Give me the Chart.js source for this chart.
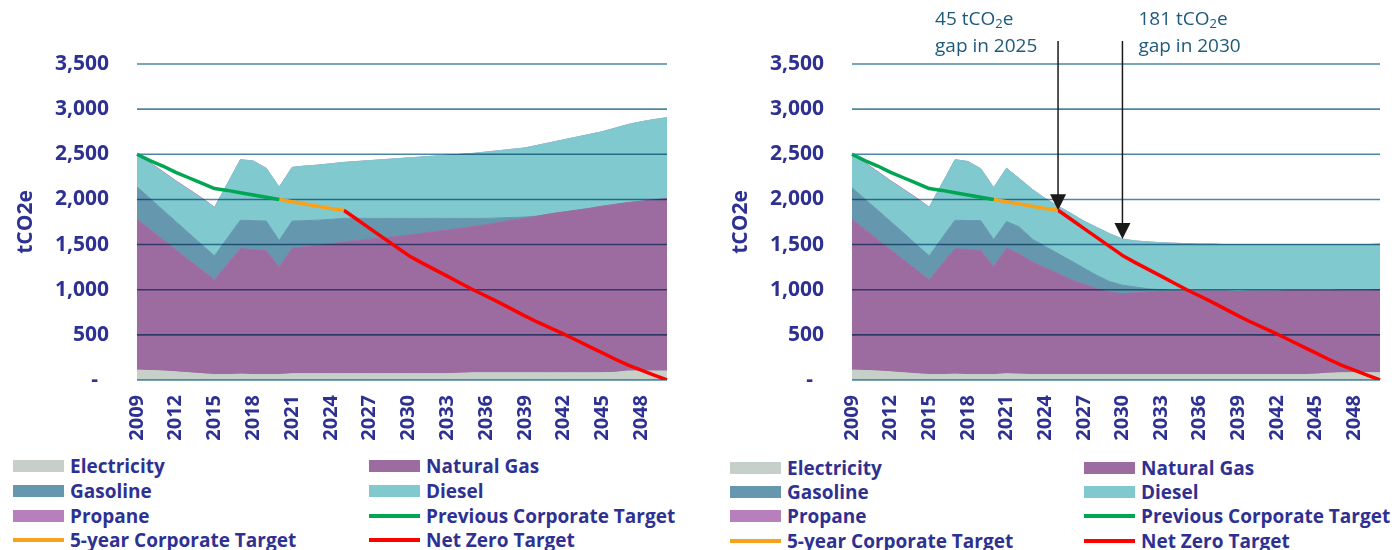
<!DOCTYPE html>
<html lang="en">
<head>
<meta charset="UTF-8">
<title>Fleet emissions forecast</title>
<script src="https://cdn.jsdelivr.net/npm/chart.js"></script>
<style>
    body {
        margin: 0;
        background: #fff;
        font-family: "Open Sans", Arial, sans-serif;
    }
    #wrap {
        position: relative;
        width: 1396px;
        height: 550px;
        overflow: hidden;
    }
    canvas {
        position: absolute;
        top: 0;
    }
    #bauChart { left: 0; }
    #planChart { left: 700px; }
    .legend-item {
        position: absolute;
        height: 20px;
        display: flex;
        align-items: center;
        font-weight: 700;
        font-size: 19px;
        color: #2e3192;
        white-space: nowrap;
    }
    .swatch {
        width: 51px;
        height: 12px;
        margin-right: 6px;
        flex: none;
    }
    .swatch.line { height: 4px; }
</style>
</head>
<body>
<div id="wrap">
    <canvas id="bauChart" width="690" height="450"></canvas>
    <canvas id="planChart" width="696" height="450"></canvas>
</div>
<script>
// years on the x axis, 2009 - 2050
const years = ['2009','2010','2011','2012','2013','2014','2015','2016','2017','2018',
               '2019','2020','2021','2022','2023','2024','2025','2026','2027','2028',
               '2029','2030','2031','2032','2033','2034','2035','2036','2037','2038',
               '2039','2040','2041','2042','2043','2044','2045','2046','2047','2048',
               '2049','2050'];

const yTicks = [0, 500, 1000, 1500, 2000, 2500, 3000, 3500];

// left panel - forecast without further action (tCO2e)
const bauElectricity = [110,105,100,90,80,70,60,60,65,60,
                        60,60,70,70,70,70,70,70,70,70,
                        70,70,70,70,70,75,80,80,80,80,
                        80,80,80,80,80,80,80,85,100,100,
                        100,100];
const bauNaturalGas = [1670,1563,1456,1354,1252,1150,1050,1225,1390,1385,
                       1375,1190,1390,1405,1420,1440,1460,1475,1490,1505,
                       1520,1535,1555,1575,1590,1605,1620,1640,1665,1690,
                       1710,1735,1760,1780,1800,1820,1845,1860,1865,1880,
                       1895,1910];
const bauGasoline = [360,344,328,312,296,280,265,290,315,320,
                     325,295,300,290,280,270,260,245,230,215,
                     200,185,165,145,130,110,90,70,50,30,
                     15,0,0,0,0,0,0,0,0,0,
                     0,0];
const bauDiesel = [360,388,416,444,477,510,535,600,670,660,
                   585,590,595,605,610,615,620,630,640,650,
                   660,670,680,690,700,710,720,735,745,755,
                   765,785,790,800,810,820,825,845,865,880,
                   890,895];

// right panel - forecast with fleet plan (tCO2e)
const planElectricity = [110,105,100,90,80,70,60,60,65,60,
                         60,60,70,65,60,60,60,60,60,60,
                         60,60,60,60,60,60,60,60,60,60,
                         60,60,60,60,60,60,65,75,80,80,
                         80,80];
const planNaturalGas = [1670,1563,1456,1354,1252,1150,1050,1225,1390,1385,
                        1375,1195,1390,1330,1250,1180,1120,1050,1000,950,
                        915,895,905,915,920,925,925,925,925,925,
                        920,925,925,925,930,930,925,915,915,915,
                        915,920];
const planGasoline = [350,337,324,311,298,280,265,290,315,320,
                      330,300,295,300,250,240,220,210,180,150,
                      115,95,65,35,20,5,0,0,0,0,
                      0,0,0,0,0,0,0,0,0,0,
                      0,0];
const planDiesel = [370,395,420,445,475,510,535,600,670,655,
                    575,575,590,535,550,530,525,525,520,530,
                    530,511,510,520,520,525,525,520,520,515,
                    520,515,515,515,510,510,510,510,505,505,
                    505,505];

const propane = [0,8,8,8,8,8,4,0,0,0,
                 0,0,0,0,0,0,0,0,0,0,
                 0,0,0,0,0,0,0,0,0,0,
                 0,0,0,0,0,0,0,0,0,0,
                 0,0];

// targets (same in both panels)
const previousTarget = [2500,2430,2370,2300,2240,2180,2120,2100,2075,2050,
                        2025,2000,null,null,null,null,null,null,null,null,
                        null,null,null,null,null,null,null,null,null,null,
                        null,null,null,null,null,null,null,null,null,null,
                        null,null];
const fiveYearTarget = [null,null,null,null,null,null,null,null,null,null,
                        null,2000,1975,1950,1925,1900,1880,null,null,null,
                        null,null,null,null,null,null,null,null,null,null,
                        null,null,null,null,null,null,null,null,null,null,
                        null,null];
const netZeroTarget = [null,null,null,null,null,null,null,null,null,null,
                       null,null,null,null,null,null,1880,1780,1680,1580,
                       1480,1380,1300,1225,1150,1075,1000,930,860,785,
                       710,640,575,510,440,370,300,230,165,110,
                       55,0];

// gap call-outs on the right panel
const gapNotes = [
    { year: '2025', gap: 45, arrowTo: 'target', textDx: -123 },
    { year: '2030', gap: 181, arrowTo: 'total', textDx: 16 }
];

const colors = {
    electricity: '#c6d0c8',
    naturalGas: '#9c6ca0',
    gasoline: '#6598af',
    diesel: '#7fc9cf',
    propane: '#b77fbc',
    previous: '#00a651',
    fiveYear: '#f8a21c',
    netZero: '#ff0000',
    text: '#2e3192',
    grid: '#4a86a6'
};

const tickFont = { family: '"Open Sans", Arial, sans-serif', weight: 'bold', size: 20 };

function areaSet(label, data, color, fill) {
    return {
        label: label,
        data: data,
        stack: 'energy',
        order: 1,
        fill: fill,
        backgroundColor: color,
        borderColor: color,
        borderWidth: 1,
        pointRadius: 0
    };
}

function lineSet(label, data, color) {
    return {
        label: label,
        data: data,
        stack: label,
        order: 0,
        fill: false,
        borderColor: color,
        backgroundColor: color,
        borderWidth: 3.5,
        borderJoinStyle: 'round',
        pointRadius: 0,
        spanGaps: false
    };
}

// y gridlines drawn over the areas (multiply so they darken like the original)
const gridOverAreas = {
    id: 'gridOverAreas',
    afterDatasetDraw(chart, args) {
        if (args.index !== 0) return;
        const { ctx, chartArea, scales } = chart;
        ctx.save();
        ctx.globalCompositeOperation = 'multiply';
        ctx.strokeStyle = colors.grid;
        ctx.lineWidth = 1.6;
        scales.y.ticks.forEach(t => {
            const y = scales.y.getPixelForValue(t.value);
            ctx.beginPath();
            ctx.moveTo(chartArea.left, y);
            ctx.lineTo(chartArea.right, y);
            ctx.stroke();
        });
        ctx.restore();
    }
};

function drawCO2(ctx, prefix, x, y) {
    ctx.font = '19px "Open Sans", Arial, sans-serif';
    ctx.fillText(prefix + ' tCO', x, y);
    let w = ctx.measureText(prefix + ' tCO').width;
    ctx.font = '13px "Open Sans", Arial, sans-serif';
    ctx.fillText('2', x + w, y + 3);
    w += ctx.measureText('2').width;
    ctx.font = '19px "Open Sans", Arial, sans-serif';
    ctx.fillText('e', x + w, y);
}

const gapArrows = {
    id: 'gapArrows',
    afterDraw(chart) {
        const { ctx, scales } = chart;
        ctx.save();
        gapNotes.forEach(n => {
            const i = years.indexOf(n.year);
            const target = netZeroTarget[i];
            const value = n.arrowTo === 'target' ? target : target + n.gap;
            const x = scales.x.getPixelForValue(i);
            const tipY = scales.y.getPixelForValue(value);

            ctx.strokeStyle = '#1a1a1a';
            ctx.fillStyle = '#1a1a1a';
            ctx.lineWidth = 1.5;
            ctx.beginPath();
            ctx.moveTo(x, 41);
            ctx.lineTo(x, tipY - 12);
            ctx.stroke();
            ctx.beginPath();
            ctx.moveTo(x - 8, tipY - 16);
            ctx.lineTo(x + 8, tipY - 16);
            ctx.lineTo(x, tipY);
            ctx.closePath();
            ctx.fill();

            ctx.fillStyle = '#1d5a7c';
            ctx.textAlign = 'left';
            ctx.textBaseline = 'alphabetic';
            const tx = x + n.textDx;
            drawCO2(ctx, String(n.gap), tx, 25);
            ctx.font = '19px "Open Sans", Arial, sans-serif';
            ctx.fillText('gap in ' + n.year, tx, 52);
        });
        ctx.restore();
    }
};

function makeChart(canvasId, parts, axisWidth, titlePad, rightPad, extraPlugins) {
    const datasets = [
        areaSet('Electricity', parts.electricity, colors.electricity, 'origin'),
        areaSet('Natural Gas', parts.naturalGas, colors.naturalGas, '-1'),
        areaSet('Gasoline', parts.gasoline, colors.gasoline, '-1'),
        areaSet('Diesel', parts.diesel, colors.diesel, '-1'),
        areaSet('Propane', propane, colors.propane, '-1'),
        lineSet('Previous Corporate Target', previousTarget, colors.previous),
        lineSet('5-year Corporate Target', fiveYearTarget, colors.fiveYear),
        lineSet('Net Zero Target', netZeroTarget, colors.netZero)
    ];
    return new Chart(document.getElementById(canvasId), {
        type: 'line',
        data: { labels: years, datasets: datasets },
        plugins: [gridOverAreas].concat(extraPlugins),
        options: {
            responsive: false,
            animation: false,
            devicePixelRatio: 1,
            layout: { padding: { top: 64, right: rightPad, bottom: 0, left: 0 } },
            plugins: {
                legend: { display: false },
                tooltip: { enabled: false }
            },
            elements: { line: { tension: 0 } },
            scales: {
                x: {
                    type: 'category',
                    grid: { display: false, drawTicks: false },
                    border: { display: false },
                    ticks: {
                        autoSkip: false,
                        maxRotation: 90,
                        minRotation: 90,
                        padding: 15,
                        color: colors.text,
                        font: tickFont,
                        callback: (v, i) => i % 3 === 0 ? years[i] : ''
                    },
                    afterFit: s => {
                        s.height = 70;
                        s.paddingLeft = 0;
                        s.paddingRight = 0;
                    }
                },
                y: {
                    stacked: true,
                    min: yTicks[0],
                    max: yTicks[yTicks.length - 1],
                    grid: { display: false, drawTicks: false },
                    border: { display: false },
                    ticks: {
                        stepSize: yTicks[1] - yTicks[0],
                        padding: 28,
                        color: colors.text,
                        font: { family: tickFont.family, weight: 'bold', size: 21 },
                        callback: v => v === 0 ? '-  ' : v.toLocaleString('en-US')
                    },
                    title: {
                        display: true,
                        text: 'tCO2e',
                        color: colors.text,
                        font: { family: tickFont.family, weight: 'bold', size: 21 },
                        padding: { top: titlePad, bottom: 0 }
                    },
                    afterFit: s => { s.width = axisWidth; }
                }
            }
        }
    });
}

makeChart('bauChart', {
    electricity: bauElectricity,
    naturalGas: bauNaturalGas,
    gasoline: bauGasoline,
    diesel: bauDiesel
}, 137, 13, 23, []);

makeChart('planChart', {
    electricity: planElectricity,
    naturalGas: planNaturalGas,
    gasoline: planGasoline,
    diesel: planDiesel
}, 152, 28, 16, [gapArrows]);

// legends, two columns under each panel
const legendEntries = [
    { label: 'Electricity', color: colors.electricity, kind: 'box' },
    { label: 'Natural Gas', color: colors.naturalGas, kind: 'box' },
    { label: 'Gasoline', color: colors.gasoline, kind: 'box' },
    { label: 'Diesel', color: colors.diesel, kind: 'box' },
    { label: 'Propane', color: colors.propane, kind: 'box' },
    { label: 'Previous Corporate Target', color: colors.previous, kind: 'line' },
    { label: '5-year Corporate Target', color: colors.fiveYear, kind: 'line' },
    { label: 'Net Zero Target', color: colors.netZero, kind: 'line' }
];

const legendSpots = [
    { cols: [13, 369], rows: [466, 491, 516, 540] },
    { cols: [730, 1084], rows: [468, 492, 516, 541] }
];

const wrap = document.getElementById('wrap');
legendSpots.forEach(spot => {
    legendEntries.forEach((e, i) => {
        const item = document.createElement('div');
        item.className = 'legend-item';
        item.style.left = spot.cols[i % 2] + 'px';
        item.style.top = (spot.rows[Math.floor(i / 2)] - 10) + 'px';
        const sw = document.createElement('span');
        sw.className = 'swatch' + (e.kind === 'line' ? ' line' : '');
        sw.style.background = e.color;
        const txt = document.createElement('span');
        txt.textContent = e.label;
        item.appendChild(sw);
        item.appendChild(txt);
        wrap.appendChild(item);
    });
});
</script>
</body>
</html>
